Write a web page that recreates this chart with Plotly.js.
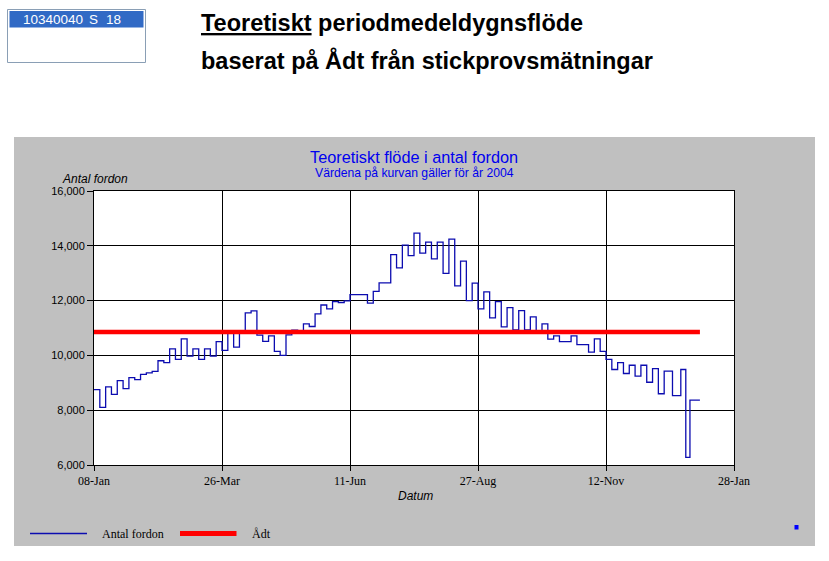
<!DOCTYPE html>
<html>
<head>
<meta charset="utf-8">
<script src="https://cdn.plot.ly/plotly-3.0.1.min.js"></script>
<style>html,body{margin:0;padding:0;background:#fff;}#chart{width:829px;height:561px;}</style>
</head>
<body>
<div id="chart"></div>
<script>
// ---- data ----
const listboxText = ['10340040', 'S', '18'];
const pageTitle1 = 'Teoretiskt';
const pageTitle1Rest = ' periodmedeldygnsflöde';
const pageTitle2 = 'baserat på Ådt från stickprovsmätningar';
const chartTitle = 'Teoretiskt flöde i antal fordon';
const chartSubtitle = 'Värdena på kurvan gäller för år 2004';
const yTitle = 'Antal fordon';
const xTitle = 'Datum';
const seriesName = 'Antal fordon';
const adtName = 'Ådt';

// start day (days after 08-Jan) of each period
const startDays = [
  0, 3.5, 7, 10.5, 14, 17.5, 21, 24.5, 28, 31.5,
  35, 38.5, 42, 45.5, 49, 52.5, 56, 59.5, 63, 66.5,
  70, 73.5, 77, 80.5, 84, 87.5, 91, 94.5, 98, 101.5,
  105, 108.5, 112, 115.5, 119, 122.5, 126, 129.5, 133, 136.5,
  140, 143.5, 147, 150.5, 154, 157.5, 161, 164.5, 168, 171.5,
  175, 178.5, 182, 185.5, 189, 192.5, 196, 199.5, 203, 206.5,
  210, 213.5, 217, 220.5, 224, 227.5, 231, 234.5, 238, 241.5,
  245, 248.5, 252, 255.5, 259, 262.5, 266, 269.5, 273, 276.5,
  280, 283.5, 287, 290.5, 294, 297.5, 301, 304.5, 308, 311.5,
  315, 318.5, 322, 325.5, 329, 332.5, 336, 339.5, 343, 348,
  353, 356, 358.5
];
// period mean daily flow (vehicles)
const flow = [
  8750, 8100, 8850, 8580, 9080, 8790, 9190, 9115, 9310, 9360,
  9420, 9805, 9735, 10240, 9855, 10600, 9975, 10240, 9855, 10240,
  9975, 10500, 10180, 10835, 10300, 10835, 11550, 11625, 10740, 10510,
  10715, 10145, 10000, 10750, 10920, 10825, 11150, 11055, 11515, 11840,
  11700, 11965, 11930, 11990, 12215, 12215, 12215, 11905, 12335, 12650,
  12650, 13675, 13195, 14025, 13640, 14460, 13735, 14135, 13520, 14135,
  12990, 14240, 12535, 13440, 12000, 12640, 11700, 12315, 11370, 11965,
  11040, 11745, 10935, 11635, 10935, 11405, 10825, 11150, 10595, 10715,
  10500, 10500, 10715, 10390, 10390, 10120, 10605, 10145, 9855, 9485,
  9735, 9340, 9640, 9245, 9640, 9020, 9520, 8600, 9425, 8530,
  9485, 6280, 8370
];
const endDay = 364.5;
const adt = 10850;

const xTickDays = [0, 77, 154, 231, 308, 385];
const xTickLabels = ['08-Jan', '26-Mar', '11-Jun', '27-Aug', '12-Nov', '28-Jan'];
const yRange = [6000, 16000];
const yStep = 2000;

// ---- layout helpers (pixel -> paper) ----
const W = 829, H = 561;
const PL = 94, PR = 734, PT = 191, PB = 465;
const px = x => (x - PL) / (PR - PL);
const py = y => (PB - y) / (PB - PT);

const SANS = 'Liberation Sans, Arial, sans-serif';
const SERIF = 'Liberation Serif, Times New Roman, serif';
const BLUE_LINE = '#0c0cb0';
const TITLE_BLUE = '#0000ee';

const stepX = startDays.concat([endDay]);
const stepY = flow.concat([flow[flow.length - 1]]);

const traces = [
  {
    x: stepX, y: stepY, type: 'scatter', mode: 'lines', name: seriesName,
    line: {shape: 'hv', color: BLUE_LINE, width: 1.3}, hoverinfo: 'skip', showlegend: false
  },
  {
    x: [startDays[0], endDay], y: [adt, adt], type: 'scatter', mode: 'lines', name: adtName,
    line: {color: '#ff0000', width: 4.5}, hoverinfo: 'skip', showlegend: false
  }
];

function rect(x0, y0, x1, y1, fill, lineColor, lw) {
  return {type: 'rect', xref: 'paper', yref: 'paper', layer: 'below',
    x0: px(x0), x1: px(x1), y0: py(y0), y1: py(y1),
    fillcolor: fill, line: {color: lineColor || fill, width: lw || 0}};
}
function hline(x0, x1, y, color, w) {
  return {type: 'line', xref: 'paper', yref: 'paper', layer: 'above',
    x0: px(x0), x1: px(x1), y0: py(y), y1: py(y), line: {color: color, width: w}};
}
function ann(text, x, y, opts) {
  return Object.assign({text: text, xref: 'paper', yref: 'paper', x: px(x), y: py(y),
    showarrow: false, xanchor: 'left', yanchor: 'middle',
    font: {family: SANS, size: 12, color: '#000'}}, opts || {});
}

const shapes = [
  // listbox
  rect(7.5, 9.5, 145.5, 62.5, '#ffffff', '#8a9fb5', 1),
  rect(9.5, 11, 143.5, 27.5, '#316ac5'),
  // grey chart panel and white plot area
  rect(14, 137, 815, 546, '#c0c0c0'),
  rect(PL, PT, PR, PB, '#ffffff'),
  // legend symbols
  hline(30, 87, 533.5, BLUE_LINE, 1.3),
  hline(180, 236.5, 533.5, '#ff0000', 5),
  // small marker bottom right
  {type: 'rect', xref: 'paper', yref: 'paper', layer: 'above',
   x0: px(794.5), x1: px(798.5), y0: py(525), y1: py(529.5), fillcolor: '#0000ff', line: {width: 0}}
];

const annotations = [
  ann(listboxText[0], 21, 19.5, {font: {family: SANS, size: 13.5, color: '#fff'}}),
  ann(listboxText[1], 87, 19.5, {font: {family: SANS, size: 13.5, color: '#fff'}}),
  ann(listboxText[2], 104, 19.5, {font: {family: SANS, size: 13.5, color: '#fff'}}),
  ann('<b><u>' + pageTitle1 + '</u>' + pageTitle1Rest + '</b>', 199, 23.5, {font: {family: SANS, size: 23.5, color: '#000'}}),
  ann('<b>' + pageTitle2 + '</b>', 199, 60.5, {font: {family: SANS, size: 23.5, color: '#000'}}),
  ann(chartTitle, 414, 157, {xanchor: 'center', font: {family: SANS, size: 16.3, color: TITLE_BLUE}}),
  ann(chartSubtitle, 414, 172.5, {xanchor: 'center', font: {family: SANS, size: 12.2, color: TITLE_BLUE}}),
  ann('<i>' + yTitle + '</i>', 60, 179.5, {font: {family: SANS, size: 12, color: '#000'}}),
  ann('<i>' + xTitle + '</i>', 415, 496, {xanchor: 'center', font: {family: SANS, size: 12, color: '#000'}}),
  ann(seriesName, 100, 534, {font: {family: SERIF, size: 12, color: '#000'}}),
  ann(adtName, 250, 534, {font: {family: SERIF, size: 12, color: '#000'}})
];

const layout = {
  width: W, height: H,
  margin: {l: PL, r: W - PR, t: PT, b: H - PB, pad: 0},
  paper_bgcolor: '#ffffff', plot_bgcolor: 'rgba(0,0,0,0)',
  showlegend: false,
  xaxis: {
    range: [xTickDays[0], xTickDays[xTickDays.length - 1]],
    tickmode: 'array', tickvals: xTickDays, ticktext: xTickLabels,
    showgrid: true, gridcolor: '#000', gridwidth: 1, zeroline: false,
    showline: true, linecolor: '#000', linewidth: 1, mirror: true,
    ticks: 'outside', ticklen: 5, tickcolor: '#000', tickwidth: 1,
    tickfont: {family: SERIF, size: 12, color: '#000'}, fixedrange: true
  },
  yaxis: {
    range: yRange, dtick: yStep, tick0: yRange[0], tickformat: ',d',
    showgrid: true, gridcolor: '#000', gridwidth: 1, zeroline: false,
    showline: true, linecolor: '#000', linewidth: 1, mirror: true,
    ticks: 'outside', ticklen: 6, tickcolor: '#000', tickwidth: 1,
    tickfont: {family: SANS, size: 11, color: '#000'}, fixedrange: true
  },
  shapes: shapes,
  annotations: annotations
};

Plotly.newPlot('chart', traces, layout, {displayModeBar: false, staticPlot: true});
</script>
</body>
</html>
